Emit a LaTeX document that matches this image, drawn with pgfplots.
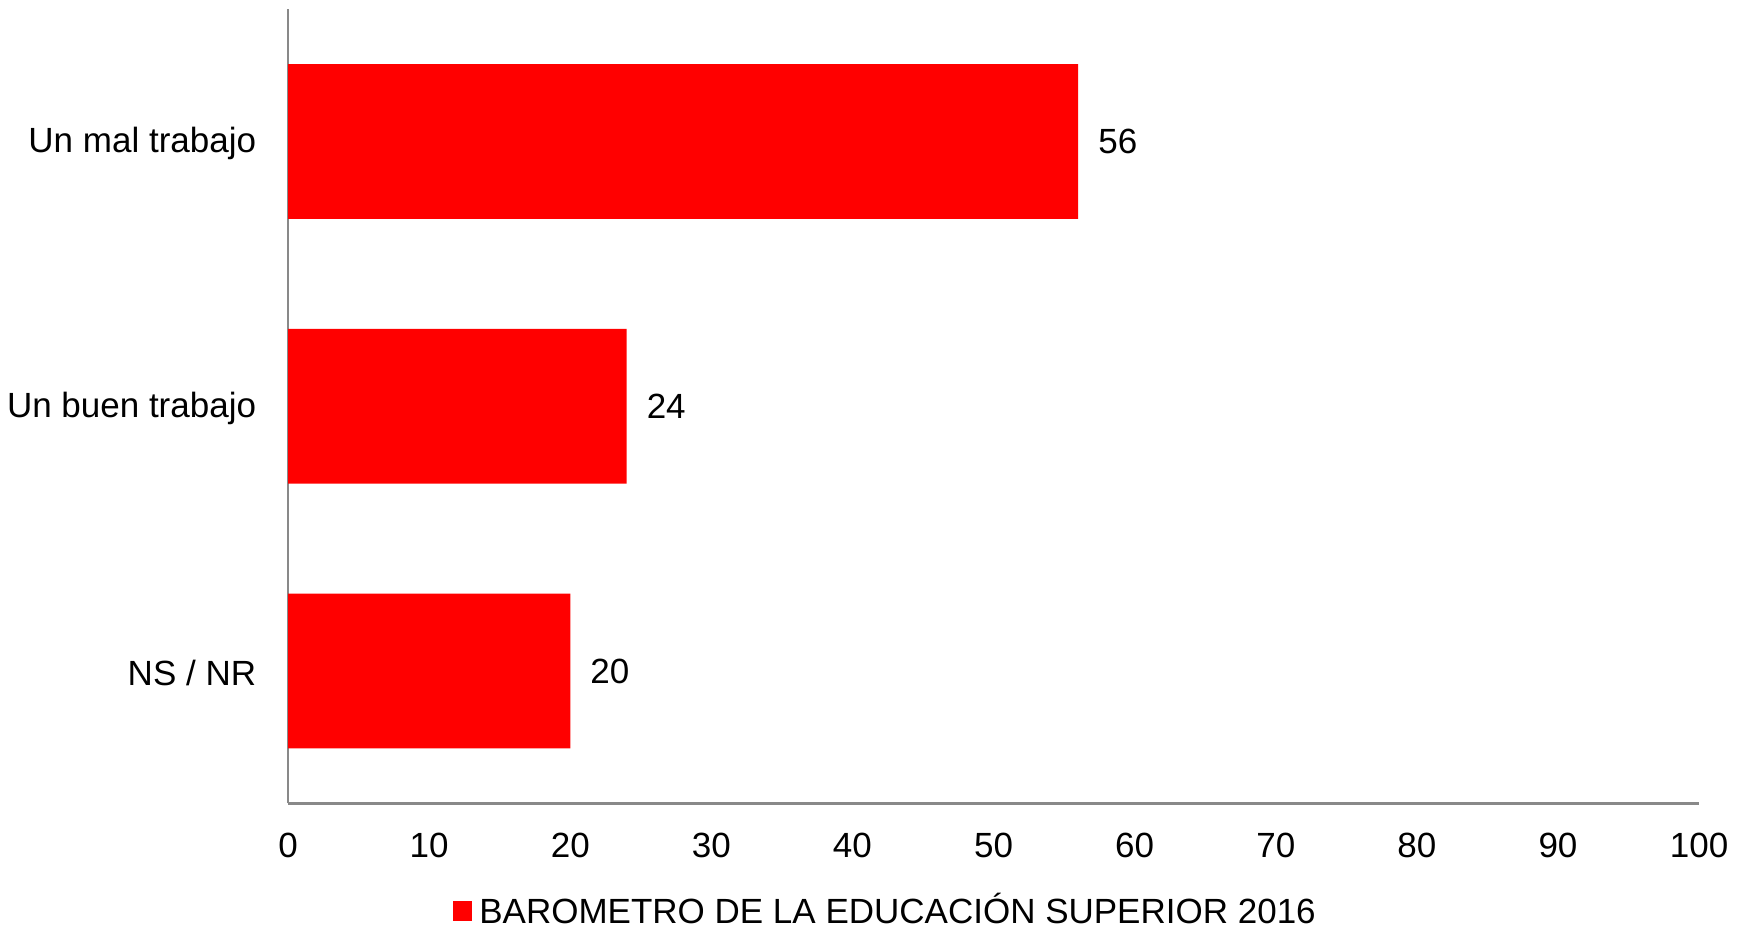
\documentclass[border=0pt]{standalone}
\usepackage{fontspec}
\setmainfont{Liberation Sans}
\usepackage{pgfplots}
\pgfplotsset{compat=1.18}
\definecolor{axisgray}{RGB}{137,137,137}
\definecolor{barred}{RGB}{255,0,0}

\begin{document}
\begin{tikzpicture}
\begin{axis}[
    name=ax,
    scale only axis,
    width=403.1pt, height=226.9pt,
    xbar, bar width=0.585,
    xmin=0, xmax=100,
    ymin=-0.5, ymax=2.5,
    xtick={0,10,...,100},
    ytick={0,1,2},
    yticklabels={NS / NR, Un buen trabajo, Un mal trabajo},
    axis x line*=bottom,
    axis y line*=left,
    axis line style={axisgray, line width=0.75pt},
    major tick length=0pt,
    /pgf/number format/assume math mode=true,
    xticklabel style={yshift=-5pt},
    yticklabel style={xshift=-5.6pt, yshift=-0.6pt},
    nodes near coords,
    nodes near coords style={anchor=west, xshift=2.2pt, text=black},
    legend style={at={(0.425,-0.136)}, anchor=center, draw=none, fill=none,
        inner sep=0pt, legend cell align=left},
    ]
\addplot[fill=barred, draw=none,
    legend image code/.code={\fill[barred] (0pt,-2.9pt) rectangle (5.6pt,2.9pt);}]
    coordinates {(20,0) (24,1) (56,2)};
\addlegendentry{BAROMETRO DE LA EDUCACIÓN SUPERIOR 2016}
\end{axis}
\pgfresetboundingbox
\path (ax.south west) ++(-82.3pt,-36.0pt) coordinate (bl);
\path (ax.north east) ++(11.7pt,2.6pt) coordinate (tr);
\useasboundingbox (bl) rectangle (tr);
\end{tikzpicture}
\end{document}
